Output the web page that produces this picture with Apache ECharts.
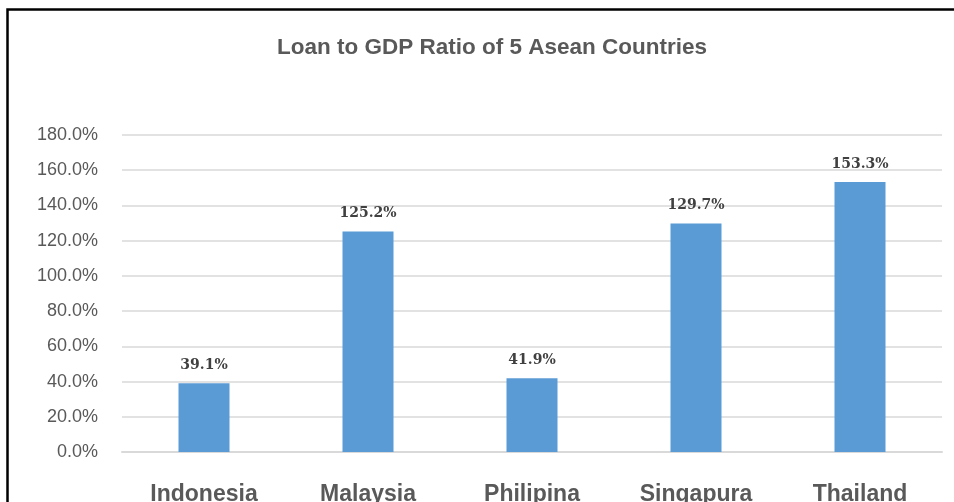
<!DOCTYPE html>
<html>
<head>
<meta charset="utf-8">
<script src="https://cdn.jsdelivr.net/npm/echarts@6/dist/echarts.min.js"></script>
<style>html,body{margin:0;padding:0;background:#fff;}#c{width:954px;height:502px;}</style>
</head>
<body>
<div id="c"></div>
<script>
var title = 'Loan to GDP Ratio of 5 Asean Countries';
var categories = ['Indonesia', 'Malaysia', 'Philipina', 'Singapura', 'Thailand'];
var values = [39.1, 125.2, 41.9, 129.7, 153.3];
var yTicks = [0, 20, 40, 60, 80, 100, 120, 140, 160, 180];

var chart = echarts.init(document.getElementById('c'));
chart.setOption({
  animation: false,
  backgroundColor: '#fff',
  title: {
    text: title, left: 487, top: 31, textAlign: 'center',
    textStyle: {fontFamily: 'Liberation Sans, sans-serif', fontWeight: 'bold', fontSize: 22.5, color: '#595959'}
  },
  graphic: [{
    type: 'rect', left: 5, top: 7, silent: true,
    shape: {width: 980, height: 520},
    style: {fill: 'none', stroke: '#000', lineWidth: 2.5}
  }],
  grid: {left: 122, right: 12, top: 135, bottom: 50, containLabel: false, outerBoundsMode: 'none'},
  xAxis: {
    type: 'category', data: categories,
    axisLine: {show: true, lineStyle: {color: '#d9d9d9', width: 2}},
    axisTick: {show: false},
    axisLabel: {margin: 31, fontSize: 23, fontWeight: 'bold', color: '#595959',
      fontFamily: 'Liberation Sans, sans-serif'}
  },
  yAxis: {
    type: 'value', min: yTicks[0], max: yTicks[yTicks.length - 1], interval: 20,
    axisLine: {show: false}, axisTick: {show: false},
    splitLine: {lineStyle: {color: '#d9d9d9', width: 1.5}},
    axisLabel: {margin: 24, fontSize: 18, color: '#595959',
      fontFamily: 'Liberation Sans, sans-serif',
      formatter: function (v) { return v.toFixed(1) + '%'; }}
  },
  series: [{
    type: 'bar', data: values, barWidth: 51,
    itemStyle: {color: '#5b9bd5'},
    label: {show: true, position: 'top', distance: 11,
      fontFamily: 'DejaVu Serif, Liberation Serif, serif', fontWeight: 'bold', fontSize: 14, color: '#404040',
      formatter: function (p) { return p.value.toFixed(1) + '%'; }}
  }]
});
</script>
</body>
</html>
